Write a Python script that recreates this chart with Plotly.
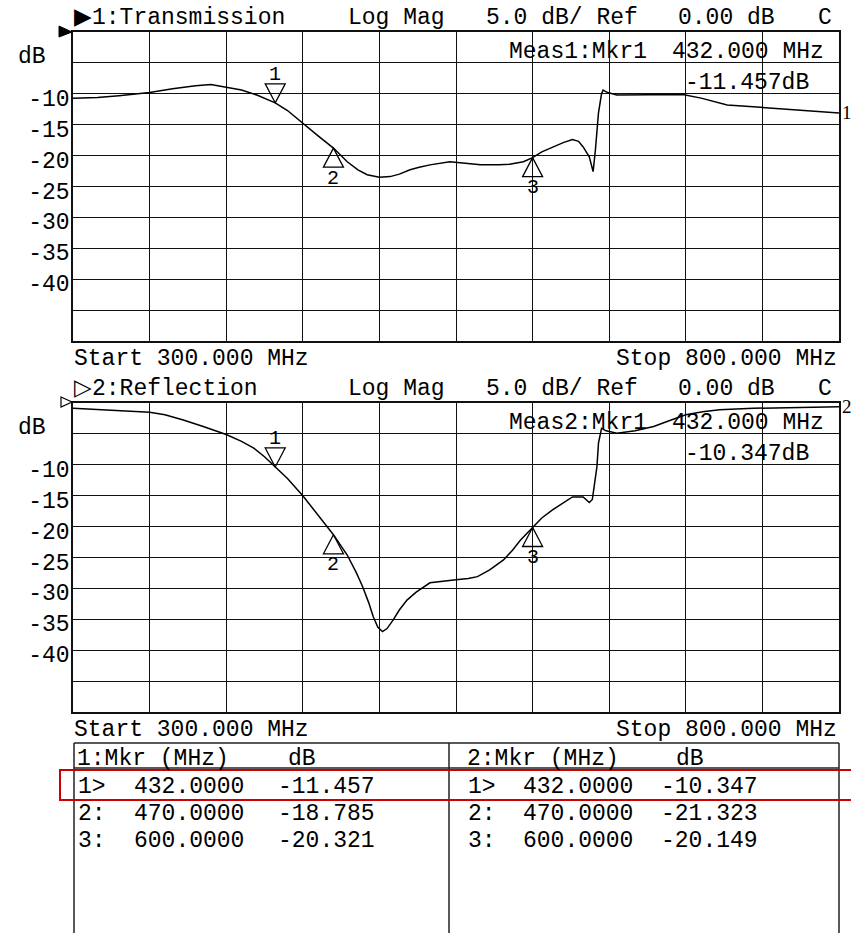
import plotly.graph_objects as go

W, H = 851, 933
FONT = "Liberation Mono"
FS = 23

# ---------------- data ----------------
start_mhz, stop_mhz = 300.0, 800.0
ref_db, scale_db = 0.00, 5.0

freq_tx = [300, 316, 330, 350, 365, 380, 390, 400, 410, 420, 432, 440, 450, 460, 470,
           479, 486, 492, 500, 507, 513, 520, 526, 533, 546, 556, 566, 578, 585, 594,
           600, 606, 613, 620, 626, 630, 633, 637, 639.5, 641, 643, 645, 646, 649, 655,
           670, 685, 698, 710, 727, 744, 760, 780, 800]
db_tx = [-10.7, -10.6, -10.3, -9.8, -9.2, -8.7, -8.5, -8.9, -9.4, -10.2, -11.457, -12.7, -14.8, -16.8, -18.785,
         -21.0, -22.3, -23.1, -23.5, -23.4, -23.0, -22.3, -21.9, -21.5, -21.0, -21.2, -21.5, -21.5, -21.4, -21.0,
         -20.321, -19.4, -18.6, -17.9, -17.4, -17.7, -18.6, -20.2, -22.6, -19.1, -13.1, -10.0, -9.4, -9.8, -10.2,
         -10.2, -10.1, -10.1, -10.7, -11.8, -12.1, -12.4, -12.8, -13.1]

freq_rf = [300, 322, 350, 360, 372, 385, 400, 410, 418, 425, 432, 440, 450, 460, 470,
           479, 485, 489, 493, 496, 499, 502, 505, 509, 513, 518, 524, 533, 542, 550,
           558, 564, 572, 581, 587, 592, 600, 606, 613, 620, 626, 633, 637, 639, 641,
           642, 643, 645, 648, 655, 667, 679, 690, 700, 711, 722, 744, 770, 800]
db_rf = [-0.86, -1.1, -1.5, -1.9, -2.75, -3.8, -5.1, -6.2, -7.3, -8.7, -10.347, -12.2, -15.0, -18.1, -21.323,
         -24.6, -27.5, -29.7, -32.3, -34.6, -36.3, -37.0, -36.5, -35.1, -33.5, -31.9, -30.6, -29.1, -28.8, -28.6,
         -28.4, -28.1, -27.0, -25.4, -23.8, -22.2, -20.149, -18.6, -17.3, -16.1, -15.2, -15.2, -16.1, -15.6, -12.5,
         -10.3, -6.5, -4.1, -4.5, -4.9, -4.5, -3.8, -2.8, -1.9, -1.4, -1.1, -0.86, -0.7, -0.6]

mkr_ids = [1, 2, 3]
mkr_freq = [432.0, 470.0, 600.0]
mkr_tx = [-11.457, -18.785, -20.321]
mkr_rf = [-10.347, -21.323, -20.149]

trace_names = ["Transmission", "Reflection"]
format_name = "Log Mag"
channel_flag = "C"

y_tickvals = [-50, -45, -40, -35, -30, -25, -20, -15, -10, -5, 0]
y_ticktext = ["", "", "-40", "-35", "-30", "-25", "-20", "-15", "-10", "", ""]


# ---------------- helpers ----------------
def px(x):
    return x / W


def py(y):
    return 1 - y / H


def txt(s, x, y, anchor="left", size=FS, family=FONT):
    return dict(text=s, x=px(x), y=py(y), xref="paper", yref="paper",
                xanchor=anchor, yanchor="middle", showarrow=False, borderpad=0,
                font=dict(family=family, size=size, color="black"))


PLOT_L, PLOT_R = 73, 839
panels = [dict(top=32, bot=341), dict(top=403, bot=712)]

fig = go.Figure()
fig.add_trace(go.Scatter(x=freq_tx, y=db_tx, mode="lines", line=dict(color="black", width=1.5),
                         xaxis="x", yaxis="y", hoverinfo="skip", showlegend=False))
fig.add_trace(go.Scatter(x=freq_rf, y=db_rf, mode="lines", line=dict(color="black", width=1.5),
                         xaxis="x2", yaxis="y2", hoverinfo="skip", showlegend=False))

xcommon = dict(range=[start_mhz, stop_mhz], tick0=start_mhz, dtick=(stop_mhz - start_mhz) / 10,
               showgrid=True, gridcolor="#111", gridwidth=1, showline=True, linecolor="#111",
               linewidth=1.5, mirror=True, showticklabels=False, zeroline=False, ticks="",
               domain=[px(PLOT_L), px(PLOT_R)])
ycommon = dict(range=[ref_db - 10 * scale_db, ref_db], tickmode="array", tickvals=y_tickvals,
               ticktext=y_ticktext, showgrid=True, gridcolor="#111", gridwidth=1, showline=True,
               linecolor="#111", linewidth=1.5, mirror=True, zeroline=False, ticks="",
               tickfont=dict(family=FONT, size=FS, color="black"), ticklabelstandoff=-3,
               ticklabelshift=4)

fig.update_layout(
    width=W, height=H, margin=dict(l=0, r=0, t=0, b=0),
    paper_bgcolor="white", plot_bgcolor="white", showlegend=False,
    xaxis=dict(xcommon, anchor="y"),
    yaxis=dict(ycommon, anchor="x", domain=[py(panels[0]["bot"]), py(panels[0]["top"])]),
    xaxis2=dict(xcommon, anchor="y2"),
    yaxis2=dict(ycommon, anchor="x2", domain=[py(panels[1]["bot"]), py(panels[1]["top"])]),
)

annotations = []
shapes = []

mkr_vals = [mkr_tx, mkr_rf]
end_vals = [db_tx[-1], db_rf[-1]]
for k, p in enumerate(panels):
    t = p["top"]
    xr, yr = ("x", "y") if k == 0 else ("x2", "y2")
    arrow = "\u25B6" if k == 0 else "\u25B7"
    # header line
    annotations.append(txt(f"{arrow}{k + 1}:{trace_names[k]}", 73, t - 14))
    annotations.append(txt(format_name, 347, t - 14))
    annotations.append(txt(f"{scale_db:.1f} dB/ Ref", 485, t - 14))
    annotations.append(txt(f"{ref_db:.2f} dB", 677, t - 14))
    annotations.append(txt(channel_flag, 817, t - 14))
    annotations.append(txt("dB", 17, t + 25))
    # active marker readout
    annotations.append(txt(f"Meas{k + 1}:Mkr{mkr_ids[0]}", 508, t + 20))
    annotations.append(txt(f"{mkr_freq[0]:.3f} MHz", 748, t + 20, anchor="center"))
    annotations.append(txt(f"{mkr_vals[k][0]:.3f}dB", 747, t + 51, anchor="center"))
    # start / stop
    annotations.append(txt(f"Start {start_mhz:.3f} MHz", 73, p["bot"] + 18))
    annotations.append(txt(f"Stop {stop_mhz:.3f} MHz", 838, p["bot"] + 18, anchor="right"))
    # trace end label
    annotations.append(dict(text=str(k + 1), x=stop_mhz, y=end_vals[k], xref=xr, yref=yr,
                            xanchor="left", yanchor="middle", xshift=1, showarrow=False,
                            font=dict(family="Liberation Serif", size=19, color="black")))
    # reference level pointer
    tip_x, back_x = 72, 59
    if k == 0:
        shapes.append(dict(type="path", xref="paper", yref="paper",
                           path=f"M {px(back_x)},{py(t - 6)} L {px(tip_x)},{py(t)} L {px(back_x)},{py(t + 5)} Z",
                           fillcolor="black", line=dict(color="black", width=1)))
    else:
        shapes.append(dict(type="path", xref="paper", yref="paper",
                           path=f"M {px(back_x + 2)},{py(t - 6)} L {px(tip_x)},{py(t - 1)} L {px(back_x + 2)},{py(t + 4)} Z",
                           fillcolor="rgba(0,0,0,0)", line=dict(color="black", width=1.2)))
    # marker triangles and labels
    for i, (mid, f) in enumerate(zip(mkr_ids, mkr_freq)):
        v = mkr_vals[k][i]
        if i == 0:
            path = "M 0,0 L -10,19 L 10,19 Z"
            shift = 28
        else:
            path = "M 0,0 L -10,-19 L 10,-19 Z"
            shift = -30
        shapes.append(dict(type="path", xref=xr, yref=yr, xsizemode="pixel", ysizemode="pixel",
                           xanchor=f, yanchor=v, path=path, fillcolor="rgba(0,0,0,0)",
                           line=dict(color="black", width=1.3)))
        annotations.append(dict(text=str(mid), x=f, y=v, xref=xr, yref=yr, yshift=shift,
                                xanchor="center", yanchor="middle", showarrow=False,
                                font=dict(family=FONT, size=20, color="black")))

# ---------------- marker table ----------------
TBL_TOP, TBL_HDR = 743, 768
TBL_L, TBL_M, TBL_R = 74, 449, 839
line_style = dict(color="#222", width=1.5)
for (x0, y0, x1, y1) in [(TBL_L, TBL_TOP, TBL_R, TBL_TOP), (TBL_L, TBL_HDR, TBL_R, TBL_HDR),
                         (TBL_L, TBL_TOP, TBL_L, H + 5), (TBL_M, TBL_TOP, TBL_M, H + 5),
                         (TBL_R, TBL_TOP, TBL_R, H + 5)]:
    shapes.append(dict(type="line", xref="paper", yref="paper", x0=px(x0), y0=py(y0),
                       x1=px(x1), y1=py(y1), line=line_style))

row_y = [787, 814, 841]
cols = [dict(x_id=77, x_f=133, x_v=277, x_db=287), dict(x_id=467, x_f=522, x_v=660, x_db=675)]
for k, c in enumerate(cols):
    annotations.append(txt(f"{k + 1}:Mkr (MHz)", c["x_id"] - 1, 759))
    annotations.append(txt("dB", c["x_db"], 759))
    for i, mid in enumerate(mkr_ids):
        tag = f"{mid}>" if i == 0 else f"{mid}:"
        annotations.append(txt(tag, c["x_id"], row_y[i]))
        annotations.append(txt(f"{mkr_freq[i]:.4f}", c["x_f"], row_y[i]))
        annotations.append(txt(f"{mkr_vals[k][i]:.3f}", c["x_v"], row_y[i]))

# red highlight of the active marker row
shapes.append(dict(type="path", xref="paper", yref="paper",
                   path=f"M {px(W + 5)},{py(770)} L {px(60)},{py(770)} L {px(60)},{py(800)} L {px(W + 5)},{py(800)}",
                   line=dict(color="#cc0000", width=2), fillcolor="rgba(0,0,0,0)"))

fig.update_layout(annotations=annotations, shapes=shapes)
fig.write_html("out.html")
